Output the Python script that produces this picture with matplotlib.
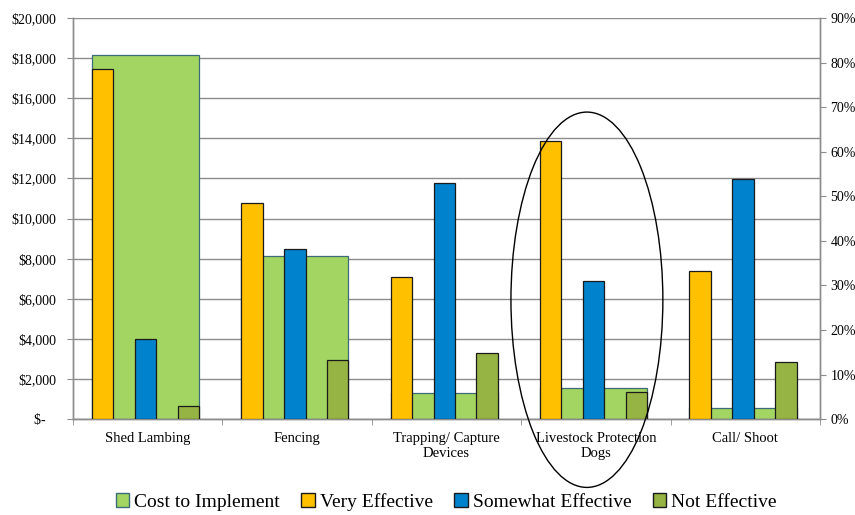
import matplotlib.pyplot as plt
import numpy as np
from matplotlib.patches import Ellipse, Patch

# data
categories = ['Shed Lambing', 'Fencing', 'Trapping/ Capture\nDevices',
              'Livestock Protection\nDogs', 'Call/ Shoot']
cost = [18140, 8140, 1330, 1560, 550]            # $ (left axis)
very_eff = [78.6, 48.4, 32.0, 62.5, 33.2]        # % (right axis)
somewhat_eff = [18.1, 38.2, 53.0, 31.0, 53.9]
not_eff = [3.0, 13.2, 14.8, 6.1, 12.9]

plt.rcParams['font.family'] = ['Liberation Serif', 'DejaVu Serif']

c_cost = '#A2D561'
c_very = '#FFC000'
c_some = '#0083CC'
c_not = '#95B443'
grid_c = '#8C8C8C'

fig = plt.figure(figsize=(8.55, 5.15), dpi=100)
ax = fig.add_axes([0.0854, 0.186, 0.8736, 0.779])
ax2 = ax.twinx()

x = np.arange(len(categories))
w = 0.1435
off = -0.015

# cost bars: wide, behind the effectiveness bars
ax.bar(x + off, cost, width=5 * w, color=c_cost, edgecolor='#3E6B78', linewidth=0.9, zorder=2)

ax2.bar(x + off - 2 * w, very_eff, width=w, color=c_very, edgecolor='#1a1a1a', linewidth=0.9, zorder=3)
ax2.bar(x + off, somewhat_eff, width=w, color=c_some, edgecolor='#1a1a1a', linewidth=0.9, zorder=3)
ax2.bar(x + off + 2 * w, not_eff, width=w, color=c_not, edgecolor='#1a1a1a', linewidth=0.9, zorder=3)

ax.set_xlim(-0.5, len(categories) - 0.5)
ax.set_ylim(0, 20000)
ax2.set_ylim(0, 90)

yt = np.arange(0, 20001, 2000)
ax.set_yticks(yt)
ax.set_yticklabels(['$-   '] + ['${:,.0f}'.format(v) for v in yt[1:]], fontsize=10)
ax.yaxis.grid(True, color=grid_c, linewidth=1.0)
ax.set_axisbelow(True)

pt = np.arange(0, 91, 10)
ax2.set_yticks(pt)
ax2.set_yticklabels(['{}%'.format(v) for v in pt], fontsize=10)

ax.set_xticks(x)
ax.set_xticklabels(categories, fontsize=10.5)
ax.set_xticks(np.arange(-0.5, len(categories), 1), minor=True)
ax.tick_params(axis='x', which='major', length=0, pad=9)
ax.tick_params(axis='x', which='minor', length=4, color=grid_c)
ax.tick_params(axis='y', length=4, color=grid_c, pad=8)
ax2.tick_params(axis='y', length=4, color=grid_c)

for a in (ax, ax2):
    a.spines['top'].set_visible(False)
    for s in ('left', 'right', 'bottom'):
        a.spines[s].set_color(grid_c)
        a.spines[s].set_linewidth(1.0)

# hand-drawn style ellipse around Livestock Protection Dogs
ell = Ellipse((2.94, 26.8), width=1.017, height=84.2, fill=False,
              edgecolor='black', linewidth=1.0, clip_on=False, zorder=5)
ax2.add_patch(ell)

handles = [Patch(facecolor=c_cost, edgecolor='#3E6B78'),
           Patch(facecolor=c_very, edgecolor='#1a1a1a'),
           Patch(facecolor=c_some, edgecolor='#1a1a1a'),
           Patch(facecolor=c_not, edgecolor='#1a1a1a')]
labels = ['Cost to Implement', 'Very Effective', 'Somewhat Effective', 'Not Effective']
fig.legend(handles, labels, loc='center', bbox_to_anchor=(0.522, 0.025), ncol=4,
           frameon=False, fontsize=14, handlelength=0.7, handleheight=0.7,
           handletextpad=0.25, columnspacing=1.1)

fig.savefig('out.png', dpi=100)
